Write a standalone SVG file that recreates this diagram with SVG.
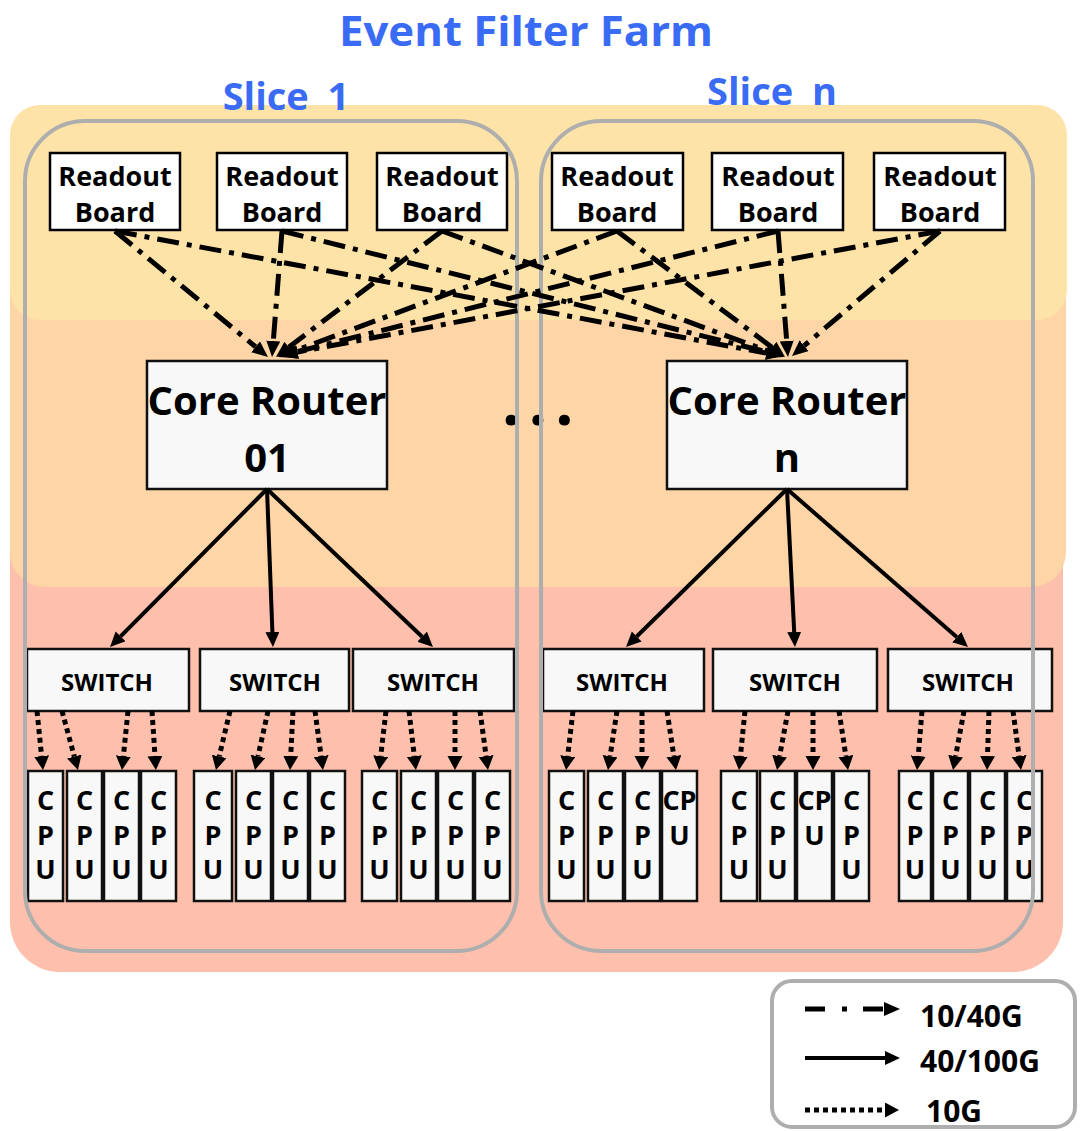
<svg xmlns="http://www.w3.org/2000/svg" width="1082" height="1131" viewBox="0 0 1082 1131">
<style>
text{font-family:"Open Sans","Liberation Sans",sans-serif;font-weight:700;fill:#000;text-anchor:middle}
.ttl{fill:#3A6BF5}
.rb{fill:#fff;stroke:#000;stroke-width:2.5}
.nd{fill:#F8F8F8;stroke:#111;stroke-width:2.5}
.slice{fill:none;stroke:#AEAEAE;stroke-width:4}
.dd{fill:none;stroke:#000;stroke-width:5;stroke-dasharray:22 8 5 8;marker-end:url(#ahD)}
.so{fill:none;stroke:#000;stroke-width:4;marker-end:url(#ahS)}
.dt{fill:none;stroke:#000;stroke-width:5;stroke-dasharray:5 4;marker-end:url(#ahT)}
.rbt{font-size:27px}
.crt{font-size:40px}
.swt{font-size:24px}
.cpt{font-size:27px}
.lgt{font-size:30px;text-anchor:start}
</style>
<defs>
<marker id="ahD" markerUnits="userSpaceOnUse" markerWidth="17" markerHeight="15" refX="0" refY="7" orient="auto"><path d="M0,0 L16,7 L0,14 z" fill="#000"/></marker>
<marker id="ahS" markerUnits="userSpaceOnUse" markerWidth="16" markerHeight="15" refX="0" refY="7" orient="auto"><path d="M0,0 L15,7 L0,14 z" fill="#000"/></marker>
<marker id="ahT" markerUnits="userSpaceOnUse" markerWidth="15" markerHeight="16" refX="0" refY="7.5" orient="auto"><path d="M0,0 L14,7.5 L0,15 z" fill="#000"/></marker>
</defs>
<rect width="1082" height="1131" fill="#fff"/>
<g id="background">
<rect x="10" y="470" width="1053" height="502" rx="50" fill="#FEC0AC"/>
<rect x="10" y="210" width="1056" height="377" rx="35" fill="#FED5A6"/>
<rect x="10" y="105" width="1057" height="215" rx="30" fill="#FEE3A8"/>
</g>
<g id="titles">
<text class="ttl" x="526" y="46" font-size="42" textLength="374" lengthAdjust="spacingAndGlyphs">Event Filter Farm</text>
<text class="ttl" x="286" y="110" font-size="38" word-spacing="9">Slice 1</text>
<text class="ttl" x="772" y="105" font-size="38" word-spacing="9">Slice n</text>
<text x="502" y="425" font-size="64" letter-spacing="8.4" style="text-anchor:start">...</text>
</g>
<g id="readout-boards">
<g id="rb1"><rect class="rb" x="50" y="153" width="130" height="77"/><text class="rbt" x="115" y="186">Readout<tspan x="115" dy="36">Board</tspan></text></g>
<g id="rb2"><rect class="rb" x="217" y="153" width="130" height="77"/><text class="rbt" x="282" y="186">Readout<tspan x="282" dy="36">Board</tspan></text></g>
<g id="rb3"><rect class="rb" x="377" y="153" width="130" height="77"/><text class="rbt" x="442" y="186">Readout<tspan x="442" dy="36">Board</tspan></text></g>
<g id="rb4"><rect class="rb" x="552" y="153" width="131" height="77"/><text class="rbt" x="617" y="186">Readout<tspan x="617" dy="36">Board</tspan></text></g>
<g id="rb5"><rect class="rb" x="712" y="153" width="131" height="77"/><text class="rbt" x="778" y="186">Readout<tspan x="778" dy="36">Board</tspan></text></g>
<g id="rb6"><rect class="rb" x="874" y="153" width="131" height="77"/><text class="rbt" x="940" y="186">Readout<tspan x="940" dy="36">Board</tspan></text></g>
</g>
<g id="core-routers">
<g id="cr01"><rect class="nd" x="147" y="361" width="240" height="128"/><text class="crt" x="267" y="415">Core Router<tspan x="267" dy="57">01</tspan></text></g>
<g id="crn"><rect class="nd" x="667" y="361" width="240" height="128"/><text class="crt" x="787" y="415">Core Router<tspan x="787" dy="57">n</tspan></text></g>
</g>
<g id="switches">
<g id="sw1"><rect class="nd" x="27" y="649" width="162" height="62"/><text class="swt" x="107" y="691">SWITCH</text></g>
<g id="sw2"><rect class="nd" x="200" y="649" width="149" height="62"/><text class="swt" x="275" y="691">SWITCH</text></g>
<g id="sw3"><rect class="nd" x="353" y="649" width="161" height="62"/><text class="swt" x="433" y="691">SWITCH</text></g>
<g id="sw4"><rect class="nd" x="543" y="649" width="161" height="62"/><text class="swt" x="622" y="691">SWITCH</text></g>
<g id="sw5"><rect class="nd" x="713" y="649" width="164" height="62"/><text class="swt" x="795" y="691">SWITCH</text></g>
<g id="sw6"><rect class="nd" x="888" y="649" width="164" height="62"/><text class="swt" x="968" y="691">SWITCH</text></g>
</g>
<g id="cpus">
<g id="cpu1"><rect class="nd" x="28" y="771" width="35" height="130"/><text class="cpt" x="45.5" y="810">C<tspan x="45.5" dy="35">P</tspan><tspan x="45.5" dy="34">U</tspan></text></g>
<g id="cpu2"><rect class="nd" x="67" y="771" width="35" height="130"/><text class="cpt" x="84.5" y="810">C<tspan x="84.5" dy="35">P</tspan><tspan x="84.5" dy="34">U</tspan></text></g>
<g id="cpu3"><rect class="nd" x="104" y="771" width="35" height="130"/><text class="cpt" x="121.5" y="810">C<tspan x="121.5" dy="35">P</tspan><tspan x="121.5" dy="34">U</tspan></text></g>
<g id="cpu4"><rect class="nd" x="141" y="771" width="35" height="130"/><text class="cpt" x="158.5" y="810">C<tspan x="158.5" dy="35">P</tspan><tspan x="158.5" dy="34">U</tspan></text></g>
<g id="cpu5"><rect class="nd" x="194" y="771" width="38" height="130"/><text class="cpt" x="213" y="810">C<tspan x="213" dy="35">P</tspan><tspan x="213" dy="34">U</tspan></text></g>
<g id="cpu6"><rect class="nd" x="236" y="771" width="35" height="130"/><text class="cpt" x="253.5" y="810">C<tspan x="253.5" dy="35">P</tspan><tspan x="253.5" dy="34">U</tspan></text></g>
<g id="cpu7"><rect class="nd" x="273" y="771" width="35" height="130"/><text class="cpt" x="290.5" y="810">C<tspan x="290.5" dy="35">P</tspan><tspan x="290.5" dy="34">U</tspan></text></g>
<g id="cpu8"><rect class="nd" x="310" y="771" width="35" height="130"/><text class="cpt" x="327.5" y="810">C<tspan x="327.5" dy="35">P</tspan><tspan x="327.5" dy="34">U</tspan></text></g>
<g id="cpu9"><rect class="nd" x="362" y="771" width="35" height="130"/><text class="cpt" x="379.5" y="810">C<tspan x="379.5" dy="35">P</tspan><tspan x="379.5" dy="34">U</tspan></text></g>
<g id="cpu10"><rect class="nd" x="401" y="771" width="35" height="130"/><text class="cpt" x="418.5" y="810">C<tspan x="418.5" dy="35">P</tspan><tspan x="418.5" dy="34">U</tspan></text></g>
<g id="cpu11"><rect class="nd" x="438" y="771" width="35" height="130"/><text class="cpt" x="455.5" y="810">C<tspan x="455.5" dy="35">P</tspan><tspan x="455.5" dy="34">U</tspan></text></g>
<g id="cpu12"><rect class="nd" x="475" y="771" width="35" height="130"/><text class="cpt" x="492.5" y="810">C<tspan x="492.5" dy="35">P</tspan><tspan x="492.5" dy="34">U</tspan></text></g>
<g id="cpu13"><rect class="nd" x="549" y="771" width="35" height="130"/><text class="cpt" x="566.5" y="810">C<tspan x="566.5" dy="35">P</tspan><tspan x="566.5" dy="34">U</tspan></text></g>
<g id="cpu14"><rect class="nd" x="588" y="771" width="35" height="130"/><text class="cpt" x="605.5" y="810">C<tspan x="605.5" dy="35">P</tspan><tspan x="605.5" dy="34">U</tspan></text></g>
<g id="cpu15"><rect class="nd" x="625" y="771" width="35" height="130"/><text class="cpt" x="642.5" y="810">C<tspan x="642.5" dy="35">P</tspan><tspan x="642.5" dy="34">U</tspan></text></g>
<g id="cpu16"><rect class="nd" x="662" y="771" width="35" height="130"/><text class="cpt" x="679.5" y="810">CP<tspan x="679.5" dy="35">U</tspan></text></g>
<g id="cpu17"><rect class="nd" x="721" y="771" width="36" height="130"/><text class="cpt" x="739" y="810">C<tspan x="739" dy="35">P</tspan><tspan x="739" dy="34">U</tspan></text></g>
<g id="cpu18"><rect class="nd" x="760" y="771" width="35" height="130"/><text class="cpt" x="777.5" y="810">C<tspan x="777.5" dy="35">P</tspan><tspan x="777.5" dy="34">U</tspan></text></g>
<g id="cpu19"><rect class="nd" x="797" y="771" width="35" height="130"/><text class="cpt" x="814.5" y="810">CP<tspan x="814.5" dy="35">U</tspan></text></g>
<g id="cpu20"><rect class="nd" x="834" y="771" width="35" height="130"/><text class="cpt" x="851.5" y="810">C<tspan x="851.5" dy="35">P</tspan><tspan x="851.5" dy="34">U</tspan></text></g>
<g id="cpu21"><rect class="nd" x="899" y="771" width="32" height="130"/><text class="cpt" x="915" y="810">C<tspan x="915" dy="35">P</tspan><tspan x="915" dy="34">U</tspan></text></g>
<g id="cpu22"><rect class="nd" x="933" y="771" width="35" height="130"/><text class="cpt" x="950.5" y="810">C<tspan x="950.5" dy="35">P</tspan><tspan x="950.5" dy="34">U</tspan></text></g>
<g id="cpu23"><rect class="nd" x="970" y="771" width="35" height="130"/><text class="cpt" x="987.5" y="810">C<tspan x="987.5" dy="35">P</tspan><tspan x="987.5" dy="34">U</tspan></text></g>
<g id="cpu24"><rect class="nd" x="1007" y="771" width="35" height="130"/><text class="cpt" x="1024.5" y="810">C<tspan x="1024.5" dy="35">P</tspan><tspan x="1024.5" dy="34">U</tspan></text></g>
</g>
<g id="slices">
<rect id="slice1" class="slice" x="25" y="121" width="492" height="830" rx="60"/>
<rect id="slicen" class="slice" x="541" y="121" width="492" height="830" rx="60"/>
</g>
<g id="connectors">
<path class="dd" d="M115,231 L255.6,346.8"/>
<path class="dd" d="M282,231 L273.3,341"/>
<path class="dd" d="M442,231 L288.7,347.3"/>
<path class="dd" d="M617,231 L293,351.4"/>
<path class="dd" d="M778,231 L295.5,352.1"/>
<path class="dd" d="M940,231 L297.7,352"/>
<path class="dd" d="M115,231 L766.3,353.1"/>
<path class="dd" d="M282,231 L767.5,352.1"/>
<path class="dd" d="M442,231 L769,351.5"/>
<path class="dd" d="M617,231 L772.2,347.4"/>
<path class="dd" d="M778,231 L786.7,341"/>
<path class="dd" d="M940,231 L804.2,345.7"/>
<path class="so" d="M267,489 L120.6,636.4"/>
<path class="so" d="M267,489 L272.4,632"/>
<path class="so" d="M267,489 L422.1,636.7"/>
<path class="so" d="M787,489 L636.7,636.5"/>
<path class="so" d="M787,489 L794.2,632"/>
<path class="so" d="M787,489 L956.7,637.1"/>
<path class="dt" d="M37,711 L41.6,756.1"/>
<path class="dt" d="M62,711 L74.3,756.5"/>
<path class="dt" d="M128,711 L123.4,756.1"/>
<path class="dt" d="M152,711 L155,756"/>
<path class="dt" d="M230,711 L219.2,756.4"/>
<path class="dt" d="M268,711 L258,756.3"/>
<path class="dt" d="M293,711 L290.7,756"/>
<path class="dt" d="M315,711 L321.1,756.1"/>
<path class="dt" d="M386,711 L380.7,756.1"/>
<path class="dt" d="M409,711 L414.3,756.1"/>
<path class="dt" d="M455,711 L455,756"/>
<path class="dt" d="M480,711 L486.1,756.1"/>
<path class="dt" d="M573,711 L567.7,756.1"/>
<path class="dt" d="M617,711 L610.1,756.2"/>
<path class="dt" d="M642,711 L642,756"/>
<path class="dt" d="M667,711 L673.9,756.2"/>
<path class="dt" d="M745,711 L740.4,756.1"/>
<path class="dt" d="M788,711 L779.6,756.2"/>
<path class="dt" d="M813,711 L813,756"/>
<path class="dt" d="M839,711 L845.9,756.2"/>
<path class="dt" d="M922,711 L918.2,756"/>
<path class="dt" d="M964,711 L955.6,756.2"/>
<path class="dt" d="M989,711 L987.5,756"/>
<path class="dt" d="M1013,711 L1019.1,756.1"/>
</g>
<g id="legend">
<rect x="772" y="981" width="303" height="146" rx="20" fill="#fff" stroke="#AEAEAE" stroke-width="4"/>
<path d="M805,1009 L884,1009" fill="none" stroke="#000" stroke-width="5" stroke-dasharray="20 17 5 16" marker-end="url(#ahD)"/>
<text class="lgt" x="920" y="1027">10/40G</text>
<path d="M805,1058 L885,1058" class="so" stroke-width="5"/>
<text class="lgt" x="920" y="1072">40/100G</text>
<path d="M805,1110 L885,1110" class="dt"/>
<text class="lgt" x="926" y="1122">10G</text>
</g>
</svg>
